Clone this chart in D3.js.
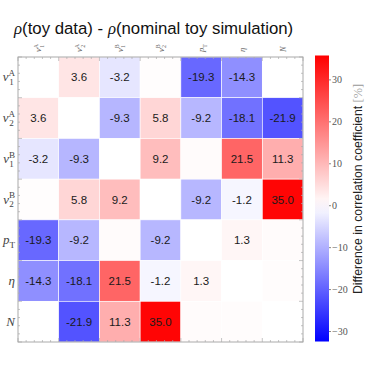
<!DOCTYPE html>
<html>
<head>
<meta charset="utf-8">
<script src="https://cdn.jsdelivr.net/npm/d3@7"></script>
<style>
  body { margin: 0; background: #fff; }
  svg { display: block; }
  .cell-text { font-family: "Liberation Sans", Arial, sans-serif; font-size: 11.5px; fill: #1a1a1a; }
  .lbl { font-family: "Liberation Serif", "DejaVu Serif", serif; font-style: italic; fill: #444; }
  .cb-tick { font-family: "Liberation Serif", serif; font-size: 10px; fill: #555; }
</style>
</head>
<body>
<svg id="chart" width="374" height="374"></svg>
<script>
// variables (rows and columns share the same order)
const labels = [
  {base: 'v', sub: '1', sup: 'A'},
  {base: 'v', sub: '2', sup: 'A'},
  {base: 'v', sub: '1', sup: 'B'},
  {base: 'v', sub: '2', sup: 'B'},
  {base: 'p', sub: 'T', sup: ''},
  {base: 'η', sub: '', sup: ''},
  {base: 'N', sub: '', sup: ''}
];

// difference in correlation coefficient [%], row by row
const rowV1A = [0.0, 3.6, -3.2, 0.3, -19.3, -14.3, 0.0];
const rowV2A = [3.6, 0.0, -9.3, 5.8, -9.2, -18.1, -21.9];
const rowV1B = [-3.2, -9.3, 0.0, 9.2, 0.5, 21.5, 11.3];
const rowV2B = [0.3, 5.8, 9.2, 0.0, -9.2, -1.2, 35.0];
const rowPT  = [-19.3, -9.2, 0.5, -9.2, 0.0, 1.3, 0.5];
const rowEta = [-14.3, -18.1, 21.5, -1.2, 1.3, 0.0, 0.4];
const rowN   = [0.0, -21.9, 11.3, 35.0, 0.5, 0.4, 0.0];
const matrix = [rowV1A, rowV2A, rowV1B, rowV2B, rowPT, rowEta, rowN];

const colorTicks = [-30, -20, -10, 0, 10, 20, 30];
const colorMin = -32.5, colorMax = 35.7;

const svg = d3.select('#chart');
const margin = {top: 57, left: 18};
const size = 285;

const idx = d3.range(labels.length);
const x = d3.scaleBand().domain(idx).range([margin.left, margin.left + size]);
const y = d3.scaleBand().domain(idx).range([margin.top, margin.top + size]);

const color = d3.scaleLinear()
  .domain([colorMin, 0, colorMax])
  .range(['#0000ff', '#ffffff', '#ff0000']);

// title
const title = svg.append('text')
  .attr('x', 14).attr('y', 34)
  .style('font-family', '"Liberation Sans", Arial, sans-serif')
  .style('font-size', '16.8px')
  .style('fill', '#111');
title.append('tspan').attr('font-family', '"Liberation Serif", serif').attr('font-style', 'italic').text('ρ');
title.append('tspan').text('(toy data) - ');
title.append('tspan').attr('font-family', '"Liberation Serif", serif').attr('font-style', 'italic').text('ρ');
title.append('tspan').text('(nominal toy simulation)');

// cells
const cells = [];
matrix.forEach((row, i) => row.forEach((v, j) => cells.push({i, j, v})));

svg.append('g').selectAll('rect')
  .data(cells)
  .join('rect')
  .attr('x', d => x(d.j))
  .attr('y', d => y(d.i))
  .attr('width', x.bandwidth())
  .attr('height', y.bandwidth())
  .attr('fill', d => color(d.v))
  .attr('stroke', '#fff')
  .attr('stroke-width', 0.6);

svg.append('g').selectAll('text')
  .data(cells.filter(d => Math.abs(d.v) >= 1))
  .join('text')
  .attr('class', 'cell-text')
  .attr('x', d => x(d.j) + x.bandwidth() / 2)
  .attr('y', d => y(d.i) + y.bandwidth() / 2)
  .attr('text-anchor', 'middle')
  .attr('dy', '0.36em')
  .text(d => d.v.toFixed(1));

// frame with small ticks
const frame = svg.append('g');
frame.append('rect')
  .attr('x', margin.left).attr('y', margin.top)
  .attr('width', size).attr('height', size)
  .attr('fill', 'none').attr('stroke', '#aaa').attr('stroke-width', 1);

const minor = d3.range(0, labels.length + 0.001, 0.2);
const pos = t => margin.left + t * x.bandwidth();
const posY = t => margin.top + t * y.bandwidth();
frame.selectAll('.tb').data(minor).join('line')
  .attr('x1', pos).attr('x2', pos)
  .attr('y1', margin.top + size).attr('y2', (d, i) => margin.top + size - (i % 5 === 0 ? 4 : 2))
  .attr('stroke', '#aaa').attr('stroke-width', 0.7);
frame.selectAll('.tt').data(minor).join('line')
  .attr('x1', pos).attr('x2', pos)
  .attr('y1', margin.top).attr('y2', (d, i) => margin.top + (i % 5 === 0 ? 4 : 2))
  .attr('stroke', '#aaa').attr('stroke-width', 0.7);
frame.selectAll('.tr').data(minor).join('line')
  .attr('y1', posY).attr('y2', posY)
  .attr('x1', margin.left + size).attr('x2', (d, i) => margin.left + size - (i % 5 === 0 ? 4 : 2))
  .attr('stroke', '#aaa').attr('stroke-width', 0.7);
frame.selectAll('.tl').data(minor).join('line')
  .attr('y1', posY).attr('y2', posY)
  .attr('x1', margin.left).attr('x2', (d, i) => margin.left + (i % 5 === 0 ? 4 : 2))
  .attr('stroke', '#aaa').attr('stroke-width', 0.7);

function mathLabel(sel, d, fs) {
  sel.append('tspan').text(d.base);
  if (d.sup) {
    sel.append('tspan').attr('font-style', 'normal').attr('font-size', fs * 0.7)
      .attr('dy', -fs * 0.4).text(d.sup);
    sel.append('tspan').attr('font-style', 'normal').attr('font-size', fs * 0.7)
      .attr('dx', -fs * 0.45).attr('dy', fs * 0.7).text(d.sub);
  } else if (d.sub) {
    sel.append('tspan').attr('font-style', 'normal').attr('font-size', fs * 0.7)
      .attr('dy', fs * 0.3).text(d.sub);
  }
}

// row labels
labels.forEach((d, i) => {
  const t = svg.append('text')
    .attr('class', 'lbl')
    .attr('x', 15)
    .attr('y', y(i) + y.bandwidth() / 2 + 4)
    .attr('text-anchor', 'end')
    .style('font-size', '13px');
  mathLabel(t, d, 13);
});

// column labels (top, rotated)
labels.forEach((d, j) => {
  const t = svg.append('text')
    .attr('class', 'lbl')
    .attr('transform', `translate(${x(j) + x.bandwidth() / 2 + 3},52) rotate(-90)`)
    .attr('text-anchor', 'start')
    .style('font-size', '8.5px')
    .style('fill', '#666');
  mathLabel(t, d, 8.5);
});

// colorbar
const cbX = 315, cbW = 14;
const cbY = d3.scaleLinear().domain([colorMin, colorMax]).range([341.5, 55.5]);
const defs = svg.append('defs');
const grad = defs.append('linearGradient').attr('id', 'cbgrad')
  .attr('x1', 0).attr('y1', 1).attr('x2', 0).attr('y2', 0);
d3.range(0, 1.0001, 0.05).forEach(t => {
  const v = colorMin + t * (colorMax - colorMin);
  grad.append('stop').attr('offset', t).attr('stop-color', color(v));
});
svg.append('rect')
  .attr('x', cbX).attr('y', cbY(colorMax))
  .attr('width', cbW).attr('height', cbY(colorMin) - cbY(colorMax))
  .attr('fill', 'url(#cbgrad)');

const cbAxis = d3.axisRight(cbY)
  .tickValues(colorTicks)
  .tickSize(2)
  .tickFormat(d => d < 0 ? '−' + Math.abs(d) : d);
const cbG = svg.append('g')
  .attr('transform', `translate(${cbX + cbW},0)`)
  .call(cbAxis);
cbG.select('.domain').remove();
cbG.selectAll('line').attr('stroke', '#888');
cbG.selectAll('text').attr('class', 'cb-tick').attr('x', 3);

const cbLabel = svg.append('text')
  .attr('transform', 'translate(362,189) rotate(-90)')
  .attr('text-anchor', 'middle')
  .style('font-family', '"Liberation Sans", Arial, sans-serif')
  .style('font-size', '12.3px')
  .style('fill', '#222');
cbLabel.append('tspan').text('Difference in correlation coefficient ');
cbLabel.append('tspan').style('font-family', '"Liberation Serif", serif').style('fill', '#999').text('[%]');
</script>
</body>
</html>
